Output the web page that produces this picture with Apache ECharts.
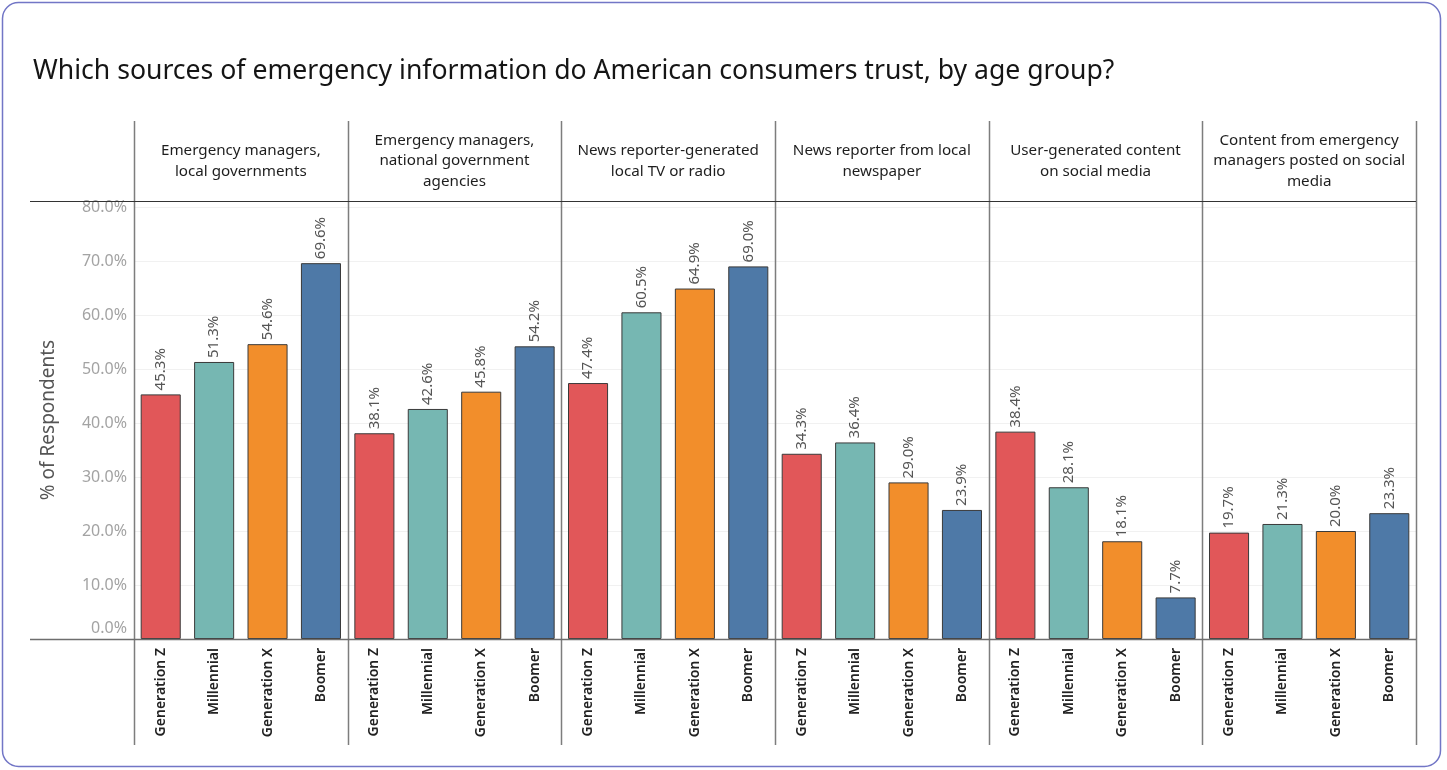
<!DOCTYPE html>
<html>
<head>
<meta charset="utf-8">
<title>Trusted sources of emergency information by age group</title>
<script src="https://cdn.jsdelivr.net/npm/echarts@6/dist/echarts.min.js"></script>
<style>
  html, body { margin: 0; padding: 0; background: #ffffff; }
  #chart { width: 1447px; height: 770px; }
</style>
</head>
<body>
<div id="chart"></div>
<script>
// Panel headers (one panel per information source)
const sources = [
  'Emergency managers,\nlocal governments',
  'Emergency managers,\nnational government\nagencies',
  'News reporter-generated\nlocal TV or radio',
  'News reporter from local\nnewspaper',
  'User-generated content\non social media',
  'Content from emergency\nmanagers posted on social\nmedia'
];

// Age groups along each panel's x axis
const generations = ['Generation Z', 'Millennial', 'Generation X', 'Boomer'];

// % of respondents who trust each source, one array per age group (in source order)
const generationZ = [45.3, 38.1, 47.4, 34.3, 38.4, 19.7];
const millennial  = [51.3, 42.6, 60.5, 36.4, 28.1, 21.3];
const generationX = [54.6, 45.8, 64.9, 29.0, 18.1, 20.0];
const boomer      = [69.6, 54.2, 69.0, 23.9, 7.7, 23.3];

// Y axis ticks
const yTicks = [0, 10, 20, 30, 40, 50, 60, 70, 80];

const byGeneration = [generationZ, millennial, generationX, boomer];
const genColors = ['#e15759', '#76b7b2', '#f28e2b', '#4e79a7'];

// Layout of the small-multiple panels
const plotLeft = 134, plotRight = 1416, plotTop = 201, plotBottom = 639;
const headerTop = 121, footBottom = 745, ruleLeft = 30;
const panelW = (plotRight - plotLeft) / sources.length;
const yMax = yTicks[yTicks.length - 1] * (plotBottom - plotTop) / (plotBottom - 207);

const FONT = '"Noto Sans", "Open Sans", sans-serif';

const grids = [], xAxes = [], yAxes = [], series = [], graphics = [];

sources.forEach((src, i) => {
  grids.push({
    left: plotLeft + i * panelW,
    top: plotTop,
    width: panelW,
    height: plotBottom - plotTop,
    containLabel: false
  });
  xAxes.push({
    type: 'category',
    gridIndex: i,
    data: generations,
    axisLine: { show: false },
    axisTick: { show: false },
    axisLabel: {
      rotate: 90,
      margin: 9,
      color: '#222',
      fontFamily: FONT,
      fontSize: 14,
      fontWeight: 600,
      interval: 0
    }
  });
  yAxes.push({
    type: 'value',
    gridIndex: i,
    min: 0,
    max: yMax,
    interval: 10,
    axisLine: { show: false },
    axisTick: { show: false },
    splitLine: { lineStyle: { color: '#f1f1f1', width: 1 } },
    name: i === 0 ? '% of Respondents' : '',
    nameLocation: 'middle',
    nameRotate: 90,
    nameGap: 76,
    nameTextStyle: { color: '#555', fontFamily: FONT, fontSize: 19 },
    axisLabel: {
      show: i === 0,
      showMaxLabel: false,
      margin: 7,
      color: '#a3a3a3',
      fontFamily: FONT,
      fontSize: 16,
      formatter: v => v === 0 ? '{z|0.0%}' : v.toFixed(1) + '%',
      rich: { z: { color: '#a3a3a3', fontFamily: FONT, fontSize: 16, padding: [0, 0, 22, 0] } }
    }
  });
  series.push({
    type: 'bar',
    xAxisIndex: i,
    yAxisIndex: i,
    barWidth: '75%',
    data: byGeneration.map((arr, j) => ({
      value: arr[i],
      itemStyle: { color: genColors[j] }
    })),
    itemStyle: { borderColor: '#3a3a3a', borderWidth: 1 },
    label: {
      show: true,
      position: 'top',
      rotate: 90,
      align: 'left',
      verticalAlign: 'middle',
      distance: 4,
      color: '#555',
      fontFamily: FONT,
      fontSize: 15,
      formatter: p => p.value.toFixed(1) + '%'
    },
    emphasis: { disabled: true }
  });

  // header text
  graphics.push({
    type: 'text',
    silent: true,
    style: {
      x: plotLeft + (i + 0.5) * panelW,
      y: (headerTop + plotTop) / 2,
      text: src,
      align: 'center',
      verticalAlign: 'middle',
      fill: '#1e1e1e',
      font: '15.2px ' + FONT,
      lineHeight: 20.5
    }
  });
});

// panel dividers
for (let k = 0; k <= sources.length; k++) {
  const x = Math.round(plotLeft + k * panelW) + 0.5;
  graphics.push({
    type: 'line', silent: true, z: 10,
    shape: { x1: x, y1: headerTop, x2: x, y2: footBottom },
    style: { stroke: '#7d7d7d', lineWidth: 1.5 }
  });
}
// header rule and baseline
graphics.push({
  type: 'line', silent: true, z: 10,
  shape: { x1: ruleLeft, y1: plotTop + 0.5, x2: plotRight, y2: plotTop + 0.5 },
  style: { stroke: '#333', lineWidth: 1.2 }
});
graphics.push({
  type: 'line', silent: true, z: 10,
  shape: { x1: ruleLeft, y1: plotBottom + 0.5, x2: plotRight, y2: plotBottom + 0.5 },
  style: { stroke: '#6e6e6e', lineWidth: 1.5 }
});
// card frame
graphics.push({
  type: 'rect', silent: true, z: -1,
  shape: { x: 2.5, y: 2.5, width: 1438, height: 764, r: 16 },
  style: { fill: 'none', stroke: '#7276c6', lineWidth: 1.5 }
});

const chart = echarts.init(document.getElementById('chart'), null, { renderer: 'canvas' });
chart.setOption({
  animation: false,
  backgroundColor: '#ffffff',
  title: {
    text: 'Which sources of emergency information do American consumers trust, by age group?',
    left: 28,
    top: 53,
    textStyle: { color: '#151515', fontFamily: FONT, fontSize: 26.6, fontWeight: 'normal' }
  },
  tooltip: { show: false },
  grid: grids,
  xAxis: xAxes,
  yAxis: yAxes,
  series: series,
  graphic: graphics
});
</script>
</body>
</html>
